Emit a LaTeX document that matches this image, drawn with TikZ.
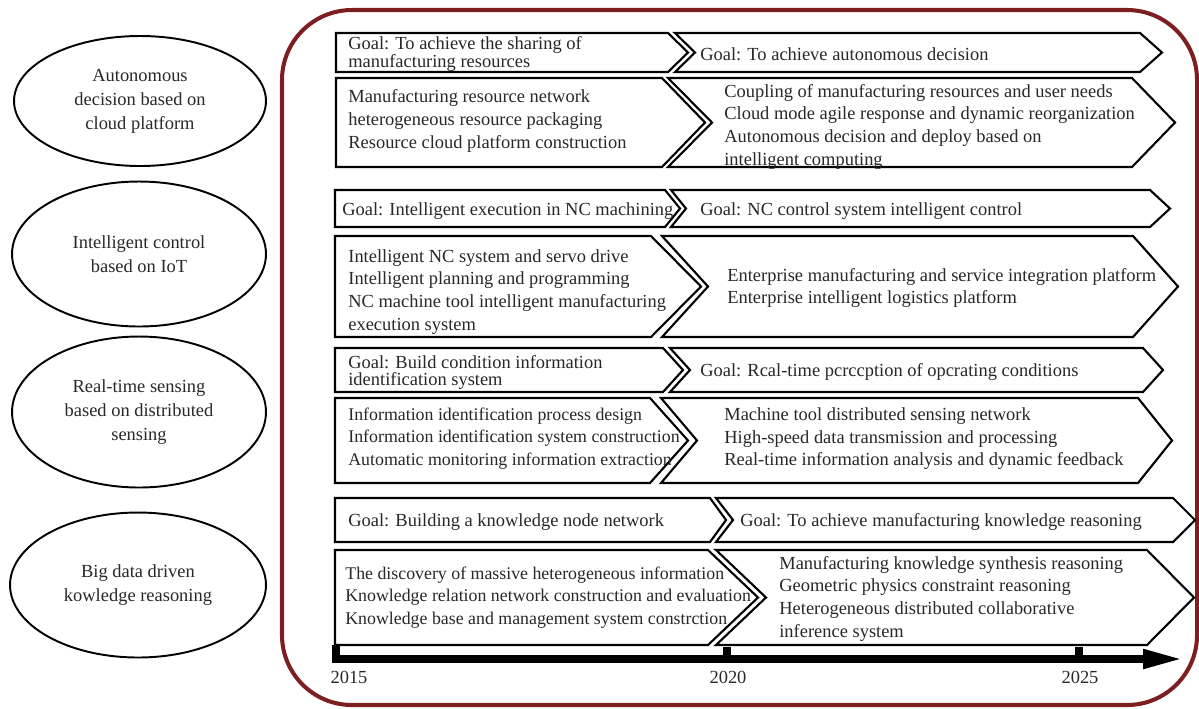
\documentclass[tikz,border=0pt]{standalone}
\usepackage{fontspec}
\setmainfont{Liberation Serif}
\usetikzlibrary{arrows.meta, shapes.geometric}
\definecolor{framered}{RGB}{125,30,32}
\definecolor{ink}{RGB}{40,40,40}

\begin{document}
\begin{tikzpicture}[
    x=0.02cm, y=-0.02cm,
    frame/.style={draw=framered, line width=2.3pt, rounded corners=1.4cm},
    topic/.style={draw, ellipse, line width=1.1pt, align=center, text=ink, font=\fontsize{10.5}{13.6}\selectfont},
    chev/.style={draw, line width=1.2pt, fill=white, line join=miter},
    goal/.style={anchor=west, inner sep=0pt, yshift=-0.9pt, align=left, text=ink, font=\fontsize{10.5}{9.6}\selectfont},
    task/.style={anchor=west, inner sep=0pt, yshift=-0.9pt, align=left, text=ink, font=\fontsize{10.5}{12.9}\selectfont},
    narrow/.style={task, font=\fontsize{10.15}{12.9}\selectfont},
    year/.style={inner sep=0pt, text=ink, font=\fontsize{10.5}{12}\selectfont},
    tick/.style={fill=black},
    axis/.style={line width=4.4pt, -{Triangle[length=0.8cm, width=0.36cm]}}
]
\useasboundingbox (0,0) rectangle (1199,708);

\draw[frame] (282,10) rectangle (1197,705);

% topics
\node[topic, minimum width=5.04cm, minimum height=2.6cm] (cloud) at (140,101) {Autonomous\\decision based on\\cloud platform};
\node[topic, minimum width=5.08cm, minimum height=2.9cm] (iot) at (139,254) {Intelligent control\\based on IoT};
\node[topic, minimum width=5.08cm, minimum height=3.02cm] (sensing) at (139,412) {Real-time sensing\\based on distributed\\sensing};
\node[topic, minimum width=5.12cm, minimum height=2.9cm] (bigdata) at (138,585) {Big data driven\\kowledge reasoning};

% row 1
\draw[chev] (336,33) -- (668,33) -- (688,52.5) -- (668,72) -- (336,72) -- cycle;
\draw[chev] (675,33) -- (1140,33) -- (1162,52.5) -- (1140,72) -- (675,72) -- (695,52.5) -- cycle;
\draw[chev] (336,78) -- (662,78) -- (705,122.5) -- (662,167) -- (336,167) -- cycle;
\draw[chev] (668,78) -- (1132,78) -- (1175,122.5) -- (1132,167) -- (668,167) -- (712,122.5) -- cycle;
\node[goal] (g1a) at (348,52.5) {Goal: To achieve the sharing of\\manufacturing resources};
\node[goal] (g1b) at (700,52.5) {Goal: To achieve autonomous decision};
\node[task] (d1a) at (348,119.5) {Manufacturing resource network\\heterogeneous resource packaging\\Resource cloud platform construction};
\node[task] (d1b) at (724,125) {Coupling of manufacturing resources and user needs\\Cloud mode agile response and dynamic reorganization\\Autonomous decision and deploy based on\\intelligent computing};

% row 2
\draw[chev] (335,190) -- (665,190) -- (680,208.5) -- (665,227) -- (335,227) -- cycle;
\draw[chev] (671,190) -- (1150,190) -- (1170,208.5) -- (1150,227) -- (671,227) -- (686,208.5) -- cycle;
\draw[chev] (335,236) -- (651,236) -- (701,286.5) -- (651,337) -- (335,337) -- cycle;
\draw[chev] (662,236) -- (1133,236) -- (1178,286.5) -- (1133,337) -- (662,337) -- (708,286.5) -- cycle;
\node[goal] (g2a) at (342,209) {Goal: Intelligent execution in NC machining};
\node[goal] (g2b) at (700,209) {Goal: NC control system intelligent control};
\node[task] (d2a) at (348,290) {Intelligent NC system and servo drive\\Intelligent planning and programming\\NC machine tool intelligent manufacturing\\execution system};
\node[task] (d2b) at (727,286.5) {Enterprise manufacturing and service integration platform\\Enterprise intelligent logistics platform};

% row 3
\draw[chev] (335,348) -- (663,348) -- (683,370) -- (663,392) -- (335,392) -- cycle;
\draw[chev] (670,348) -- (1143,348) -- (1163,370) -- (1143,392) -- (670,392) -- (690,370) -- cycle;
\draw[chev] (335,398) -- (650,398) -- (688,440.5) -- (650,483) -- (335,483) -- cycle;
\draw[chev] (661,398) -- (1138,398) -- (1172,440.5) -- (1138,483) -- (661,483) -- (697,440.5) -- cycle;
\node[goal] (g3a) at (348,370.5) {Goal: Build condition information\\identification system};
\node[goal] (g3b) at (700,370) {Goal: Rcal-time pcrccption of opcrating conditions};
\node[narrow] (d3a) at (348,437) {Information identification process design\\Information identification system construction\\Automatic monitoring information extraction};
\node[task] (d3b) at (724,437) {Machine tool distributed sensing network\\High-speed data transmission and processing\\Real-time information analysis and dynamic feedback};

% row 4
\draw[chev] (335,498) -- (710,498) -- (726,520) -- (710,542) -- (335,542) -- cycle;
\draw[chev] (716,498) -- (1173,498) -- (1195,520) -- (1173,542) -- (716,542) -- (733,520) -- cycle;
\draw[chev] (335,550) -- (708,550) -- (758,597.5) -- (708,645) -- (335,645) -- cycle;
\draw[chev] (716,550) -- (1147,550) -- (1194,597.5) -- (1147,645) -- (716,645) -- (766,597.5) -- cycle;
\node[goal] (g4a) at (348,520) {Goal: Building a knowledge node network};
\node[goal] (g4b) at (740,520) {Goal: To achieve manufacturing knowledge reasoning};
\node[narrow] (d4a) at (345,596) {The discovery of massive heterogeneous information\\Knowledge relation network construction and evaluation\\Knowledge base and management system constrction};
\node[task] (d4b) at (779,597) {Manufacturing knowledge synthesis reasoning\\Geometric physics constraint reasoning\\Heterogeneous distributed collaborative\\inference system};

% timeline
\coordinate (t0) at (332,659);
\coordinate (t1) at (1183,659);
\draw[axis] (t0) -- (t1);
\fill[tick] (332,645) rectangle (340,660);
\fill[tick] (723,647) rectangle (731,660);
\fill[tick] (1075,647) rectangle (1083,660);
\node[year] (y2015) at (349,677) {2015};
\node[year] (y2020) at (728,677) {2020};
\node[year] (y2025) at (1080,677) {2025};
\end{tikzpicture}
\end{document}
